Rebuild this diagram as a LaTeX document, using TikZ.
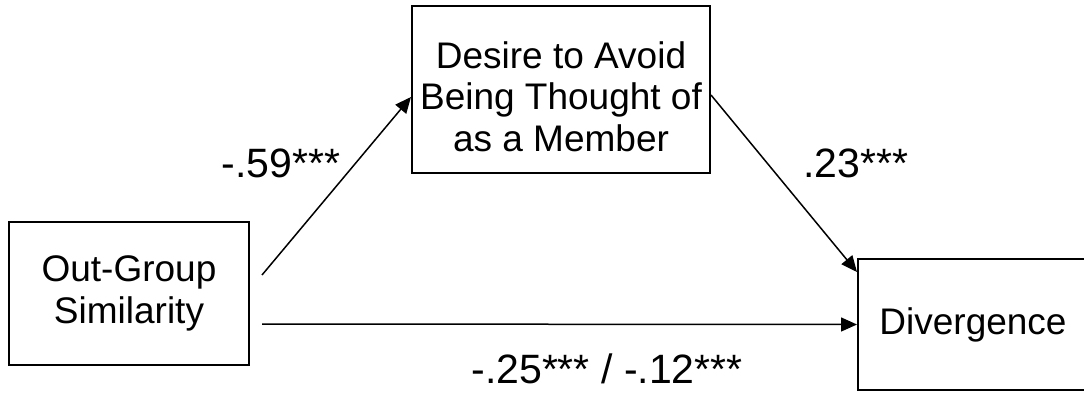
\documentclass[tikz,border=0pt]{standalone}
\usepackage{fontspec}
\setmainfont{Liberation Sans}
\usetikzlibrary{arrows.meta}
\begin{document}
\begin{tikzpicture}[x=1pt,y=-1pt,
  box/.style={draw, line width=2pt, align=center, inner sep=0pt,
    font=\fontsize{37}{41.5}\selectfont},
  lbl/.style={font=\fontsize{41}{45}\selectfont, inner sep=0pt, anchor=base},
  arr/.style={line width=1.5pt, -{Triangle[length=16pt,width=14pt]}}]
\useasboundingbox (0,0) rectangle (1084,392);
\node[box, minimum width=240pt, minimum height=143pt] (sim) at (129,293.5) {Out-Group\\Similarity};
\node[box, minimum width=298pt, minimum height=167pt] (des) at (561,89.5) {\rule{0pt}{41pt}Desire to Avoid\\Being Thought of\\as a Member};
\node[box, minimum width=230pt, minimum height=131pt] (div) at (973,324.5) {Divergence};
\coordinate (s1) at (262,275);
\coordinate (s3) at (262,324);
\draw[arr] (s1) -- ([yshift=-7.5pt]des.west);
\draw[arr] ([yshift=-5.5pt]des.east) -- ([yshift=-14pt]div.north west);
\draw[arr] (s3) -- (div.west);
\node[lbl] (l1) at (281,177) {-.59***};
\node[lbl] (l2) at (856,177) {.23***};
\node[lbl] (l3) at (607,383) {-.25*** / -.12***};
\end{tikzpicture}
\end{document}
